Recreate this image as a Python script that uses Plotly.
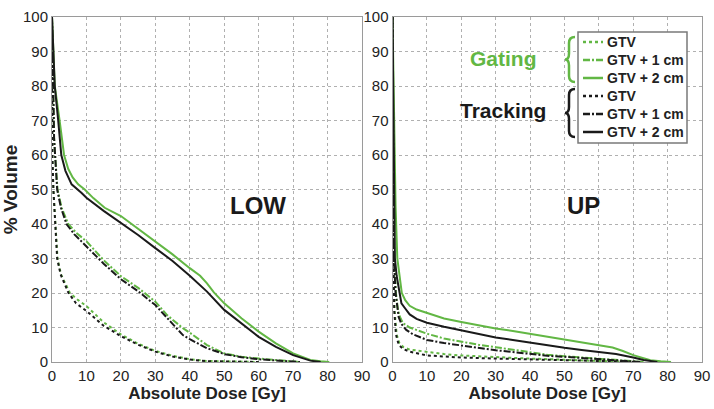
import plotly.graph_objects as go

# ---------------- DATA ----------------
# LOW panel
low_gate_2_dose = [0, 0.3, 0.8, 2.2, 3.5, 4.7, 6, 7.6, 9.5, 12, 15.3, 20, 25, 30, 35, 40, 43, 45, 47, 50, 55, 60, 65, 70, 75, 78, 80.5]
low_gate_2_vol = [100, 90, 80, 70, 60, 56, 53.5, 51.5, 50, 47.5, 44.7, 42.3, 38.6, 34.8, 31.2, 27.2, 25, 22.8, 20.2, 17, 12.7, 8.8, 5.4, 2.5, 0.6, 0.2, 0]
low_track_2_dose = [0, 0.3, 0.8, 1.8, 2.7, 3.9, 5.7, 8.6, 10, 15, 20, 25, 30, 35, 40, 45, 50, 55, 60, 65, 70, 75, 78]
low_track_2_vol = [100, 90, 80, 70, 60, 55.4, 51.5, 49, 47.6, 43.8, 40.4, 36.8, 33, 29.3, 25, 20.4, 15.1, 11.2, 7.3, 4.4, 2, 0.4, 0]
low_gate_1_dose = [0, 0.3, 0.6, 0.9, 1.6, 2.8, 4.7, 7, 10, 15, 20, 25, 30, 33.4, 38, 40, 45, 50, 55, 60, 65, 70, 72]
low_gate_1_vol = [100, 80, 65, 60, 50, 44.7, 40, 37.5, 35, 29.5, 24.9, 21.5, 17.5, 13.6, 9.8, 8.5, 4.9, 2.5, 1.5, 1.0, 0.6, 0.3, 0]
low_track_1_dose = [0, 0.3, 0.6, 0.9, 1.5, 2.6, 4.2, 6.5, 10, 15, 20, 25, 30, 33.4, 38, 40, 45, 50, 55, 60, 65, 70, 72]
low_track_1_vol = [100, 80, 65, 60, 50, 44.7, 40, 37, 33.6, 28.5, 24, 20.5, 16.5, 12.7, 7.8, 6.6, 4, 2.3, 1.4, 0.8, 0.5, 0.2, 0]
low_gate_0_dose = [0, 0.1, 0.4, 0.9, 1.6, 2.6, 5.2, 7.5, 10, 15, 20, 25, 30, 35, 40, 45, 50, 55, 60]
low_gate_0_vol = [100, 60, 50, 40, 30, 25.4, 20, 18, 16.2, 11.5, 8, 5.3, 3.2, 1.8, 0.8, 0.3, 0.15, 0.05, 0]
low_track_0_dose = [0, 0.1, 0.4, 0.9, 1.5, 2.5, 4.8, 7, 10, 15, 20, 25, 30, 35, 40, 45, 50, 55, 60]
low_track_0_vol = [100, 60, 50, 40, 30, 25.4, 20, 17, 14.8, 10.5, 7.5, 5, 3, 1.6, 0.7, 0.25, 0.1, 0.05, 0]

# UP panel
up_gate_2_dose = [0, 0.3, 0.6, 0.9, 1.4, 2.0, 2.7, 3.7, 5, 7, 10, 15, 20, 25, 30, 35, 40, 45, 50, 55, 60, 64, 67, 70, 73, 75, 78, 81]
up_gate_2_vol = [100, 80, 60, 45, 30, 25, 20, 17.9, 16.3, 15.2, 14.3, 12.6, 11.6, 10.6, 9.7, 9, 8.2, 7.3, 6.5, 5.7, 4.9, 4.2, 3.2, 2.0, 1.1, 0.5, 0.2, 0]
up_track_2_dose = [0, 0.3, 0.5, 0.7, 1.2, 2, 2.6, 3.7, 5, 7, 10, 15, 20, 25, 30, 35, 40, 45, 50, 55, 60, 65, 70, 73, 77]
up_track_2_vol = [100, 70, 45, 30, 25, 20, 17, 15.5, 13.8, 12.5, 11.4, 10.2, 9.1, 8, 7.1, 6.4, 5.6, 4.8, 4.1, 3.5, 3.0, 2.3, 1.3, 0.6, 0]
up_gate_1_dose = [0, 0.2, 0.5, 1, 1.6, 2.2, 3, 5, 10, 15, 20, 25, 30, 35, 40, 45, 50, 55, 60, 65, 70, 73]
up_gate_1_vol = [100, 60, 30, 20, 15, 13, 11.3, 10, 8.2, 6.8, 5.8, 5, 4.3, 3.5, 2.8, 2.1, 1.7, 1.3, 1.0, 0.6, 0.3, 0]
up_track_1_dose = [0, 0.2, 0.4, 0.9, 1.4, 1.8, 2.6, 4, 6, 10, 15, 20, 25, 30, 35, 40, 45, 50, 55, 60, 65, 70, 72]
up_track_1_vol = [100, 60, 30, 20, 15, 13, 11, 9.3, 8, 6.4, 5.5, 4.8, 4, 3.4, 2.9, 2.3, 1.8, 1.5, 1.2, 0.9, 0.5, 0.2, 0]
up_gate_0_dose = [0, 0.1, 0.3, 0.6, 1.2, 2, 3.2, 5, 10, 15, 20, 25, 30, 35, 40, 50, 60, 70, 72]
up_gate_0_vol = [100, 60, 30, 15, 8, 5.5, 4.3, 3.6, 2.9, 2.3, 1.9, 1.6, 1.4, 1.2, 1.0, 0.6, 0.3, 0.1, 0]
up_track_0_dose = [0, 0.1, 0.3, 0.5, 1, 1.8, 3, 5, 10, 15, 20, 30, 40, 50, 60, 70, 72]
up_track_0_vol = [100, 60, 30, 15, 8, 5, 3.8, 3, 1.9, 1.6, 1.3, 1.0, 0.7, 0.5, 0.3, 0.1, 0]

x_ticks = [0, 10, 20, 30, 40, 50, 60, 70, 80, 90]
y_ticks = [0, 10, 20, 30, 40, 50, 60, 70, 80, 90, 100]
legend_names = ["GTV", "GTV + 1 cm", "GTV + 2 cm"]
group_names = ["Gating", "Tracking"]
panel_names = ["LOW", "UP"]

# ---------------- STYLE ----------------
W, H = 714, 409
GREEN = "#62b744"
BLACK = "#1a1a1a"
FONT = "Liberation Sans"
DOT = "dot"
DASHDOT = "7px,2px,2px,2px"
DASHES = [DOT, DASHDOT, "solid"]

fig = go.Figure()

def add(x, y, color, dash, name, axis):
    fig.add_trace(go.Scatter(
        x=x, y=y, mode="lines", name=name,
        line=dict(color=color, width=2, dash=dash),
        xaxis="x" if axis == 1 else "x2", yaxis="y" if axis == 1 else "y2",
        showlegend=False, hoverinfo="skip"))

add(low_gate_0_dose, low_gate_0_vol, GREEN, DOT, "Gating " + legend_names[0], 1)
add(low_gate_1_dose, low_gate_1_vol, GREEN, DASHDOT, "Gating " + legend_names[1], 1)
add(low_gate_2_dose, low_gate_2_vol, GREEN, "solid", "Gating " + legend_names[2], 1)
add(low_track_0_dose, low_track_0_vol, BLACK, DOT, "Tracking " + legend_names[0], 1)
add(low_track_1_dose, low_track_1_vol, BLACK, DASHDOT, "Tracking " + legend_names[1], 1)
add(low_track_2_dose, low_track_2_vol, BLACK, "solid", "Tracking " + legend_names[2], 1)

add(up_gate_0_dose, up_gate_0_vol, GREEN, DOT, "Gating " + legend_names[0], 2)
add(up_gate_1_dose, up_gate_1_vol, GREEN, DASHDOT, "Gating " + legend_names[1], 2)
add(up_gate_2_dose, up_gate_2_vol, GREEN, "solid", "Gating " + legend_names[2], 2)
add(up_track_0_dose, up_track_0_vol, BLACK, DOT, "Tracking " + legend_names[0], 2)
add(up_track_1_dose, up_track_1_vol, BLACK, DASHDOT, "Tracking " + legend_names[1], 2)
add(up_track_2_dose, up_track_2_vol, BLACK, "solid", "Tracking " + legend_names[2], 2)

def px(x):
    return x / W

def py(y):
    return 1 - y / H

axis_common = dict(
    showline=True, mirror=True, linecolor="#9a9a9a", linewidth=1,
    showgrid=True, gridcolor="#b0b0b0", griddash="dot", gridwidth=1,
    zeroline=False, ticks="", automargin=False,
    tickfont=dict(family=FONT, size=15, color="#222"),
)
xdomL = [px(52), px(362)]
xdomR = [px(392.5), px(702)]
ydom = [py(362), py(17)]
title_font = dict(family=FONT, size=17, color="#222")

fig.update_layout(
    width=W, height=H, margin=dict(l=0, r=0, t=0, b=0, autoexpand=False),
    paper_bgcolor="white", plot_bgcolor="white",
    font=dict(family=FONT, color="#222"),
    xaxis=dict(domain=xdomL, range=[0, 90], tickvals=x_ticks, anchor="y",
               title=dict(text="<b>Absolute Dose [Gy]</b>", font=title_font, standoff=2),
               **axis_common),
    yaxis=dict(domain=ydom, range=[0, 100], tickvals=y_ticks, anchor="x",
               title=dict(text="<b>% Volume</b>", font=dict(family=FONT, size=19, color="#222"), standoff=0),
               **axis_common),
    xaxis2=dict(domain=xdomR, range=[0, 90], tickvals=x_ticks, anchor="y2",
                title=dict(text="<b>Absolute Dose [Gy]</b>", font=title_font, standoff=2),
                **axis_common),
    yaxis2=dict(domain=ydom, range=[0, 100], tickvals=y_ticks, anchor="x2", **axis_common),
    showlegend=False,
)

def label(x, y, text, size, color):
    fig.add_annotation(x=px(x), y=py(y), xref="paper", yref="paper",
                       xanchor="center", yanchor="middle", text="<b>" + text + "</b>",
                       showarrow=False, font=dict(family=FONT, size=size, color=color))

label(258, 205, panel_names[0], 24, BLACK)
label(583, 205, panel_names[1], 24, BLACK)
label(503, 59, group_names[0], 21, GREEN)
label(503, 111, group_names[1], 21, BLACK)

def brace(x_tip, x_end, y0, y1, color):
    ym = (y0 + y1) / 2
    xm = x_tip + 4
    pts = (f"M {px(x_end)},{py(y0)} Q {px(xm)},{py(y0)} {px(xm)},{py(y0+6)} "
           f"L {px(xm)},{py(ym-6)} Q {px(xm)},{py(ym)} {px(x_tip)},{py(ym)} "
           f"Q {px(xm)},{py(ym)} {px(xm)},{py(ym+6)} "
           f"L {px(xm)},{py(y1-6)} Q {px(xm)},{py(y1)} {px(x_end)},{py(y1)}")
    fig.add_shape(type="path", path=pts, xref="paper", yref="paper",
                  line=dict(color=color, width=2.5))

brace(565, 575, 37, 82, GREEN)
brace(565, 575, 89, 137, BLACK)

# legend box (keys)
fig.add_shape(type="rect", x0=px(578), x1=px(687), y0=py(32), y1=py(143),
              xref="paper", yref="paper", fillcolor="white",
              line=dict(color="#7a7a7a", width=1.5))
row_y = [42, 60, 78, 96, 114, 132]
for gi, color in enumerate([GREEN, BLACK]):
    for k in range(3):
        yy = row_y[gi * 3 + k]
        fig.add_shape(type="line", x0=px(583), x1=px(603), y0=py(yy), y1=py(yy),
                      xref="paper", yref="paper",
                      line=dict(color=color, width=2.5, dash=DASHES[k]))
        fig.add_annotation(x=px(605), y=py(yy), xref="paper", yref="paper",
                           xanchor="left", yanchor="middle", showarrow=False,
                           text="<b>" + legend_names[k] + "</b>",
                           font=dict(family=FONT, size=14, color="#222"))

fig.write_html("out.html", config={"displayModeBar": False},
               post_script="document.body.style.margin='0';document.body.style.overflow='hidden';")
